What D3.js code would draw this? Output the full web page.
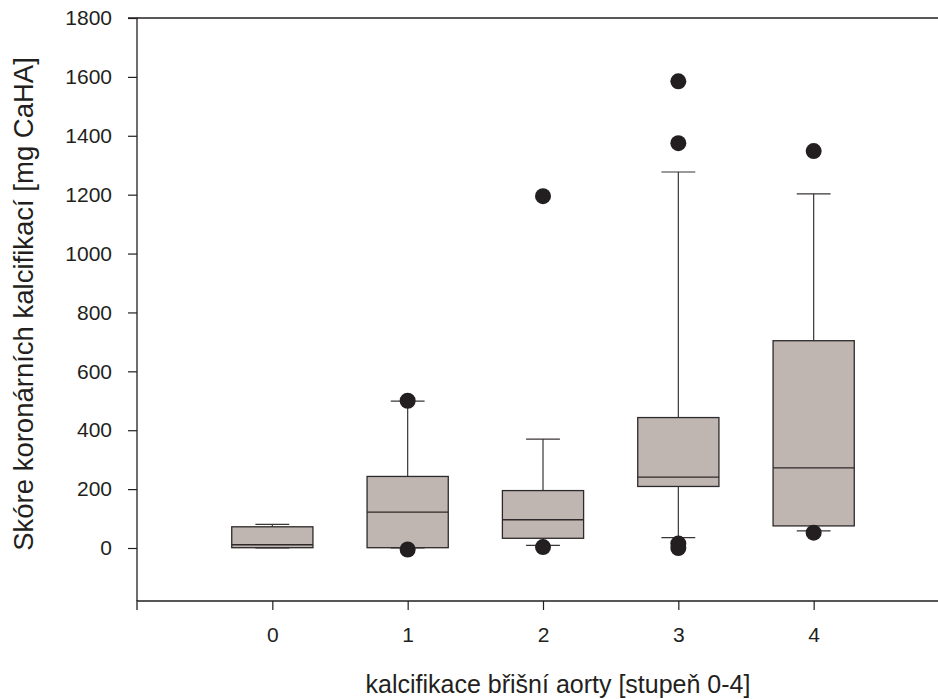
<!DOCTYPE html>
<html>
<head>
<meta charset="utf-8">
<script src="https://cdn.jsdelivr.net/npm/d3@7"></script>
<style>
  body { margin: 0; background: #fff; }
  text { font-family: "Liberation Sans", Arial, sans-serif; fill: #231f20; }
</style>
</head>
<body>
<div id="chart"></div>
<script>
let margin = {top: 18, right: 0, bottom: 99, left: 137},
    width = 938 - margin.left - margin.right,
    height = 699 - margin.top - margin.bottom

// values
const grades = [0, 1, 2, 3, 4]
const whiskerLow = [0, 0, 9, 35, 58]
const q1 = [1, 1, 33, 209, 75]
const median = [11, 122, 96, 241, 272]
const q3 = [72, 243, 195, 443, 704]
const whiskerHigh = [80, 499, 370, 1277, 1203]
const outliers = [
  [],
  [500, -5],
  [1195, 3],
  [1585, 1375, 15, 0],
  [1348, 52]
]
const yTicks = [0, 200, 400, 600, 800, 1000, 1200, 1400, 1600, 1800]

let svg = d3.select("#chart")
            .append('svg')
            .attr('width', 938)
            .attr('height', 699)
            .append('g')
            .attr('transform', "translate(" + margin.left + "," + margin.top + ")")

let x = d3.scaleLinear()
          .domain([-1, 5])
          .range([0, 812])
let y = d3.scaleLinear()
          .domain([-180, 1800])
          .range([height + 1, 0])

const boxW = 0.6, capW = 0.25

// frame top line
svg.append('line')
   .attr('x1', 0).attr('x2', width)
   .attr('y1', 0).attr('y2', 0)
   .attr('stroke', '#231f20').attr('stroke-width', 1.3)

let yAxis = svg.append('g')
               .call(d3.axisLeft(y).tickValues(yTicks).tickFormat(d3.format("d"))
                       .tickSize(9).tickPadding(16))
let xAxis = svg.append('g')
               .attr('transform', "translate(0," + (height + 1) + ")")
               .call(d3.axisBottom(x).tickValues(grades).tickFormat(d3.format("d"))
                       .tickSize(9).tickPadding(17))

svg.selectAll('.domain').attr('stroke', '#231f20').attr('stroke-width', 1.3)
svg.selectAll('.tick line').attr('stroke', '#231f20').attr('stroke-width', 1.2)
svg.selectAll('.tick text').style('font-size', '21px').attr('fill', '#231f20')
// x axis line runs across whole width
xAxis.select('.domain').attr('d', "M0,9V0H" + width)
yAxis.select('.domain').attr('d', "M-9," + (y(1800)) + "H0V" + (height + 1))

let groups = svg.selectAll('.box')
                .data(grades)
                .enter()
                .append('g')
                .attr('class', 'box')

// whiskers
groups.append('line')
      .attr('x1', d => x(d)).attr('x2', d => x(d))
      .attr('y1', d => y(q3[d])).attr('y2', d => y(whiskerHigh[d]))
      .attr('stroke', '#3a3536').attr('stroke-width', 1.2)
groups.append('line')
      .attr('x1', d => x(d)).attr('x2', d => x(d))
      .attr('y1', d => y(q1[d])).attr('y2', d => y(whiskerLow[d]))
      .attr('stroke', '#3a3536').attr('stroke-width', 1.2)
groups.append('line')
      .attr('x1', d => x(d - capW / 2)).attr('x2', d => x(d + capW / 2))
      .attr('y1', d => y(whiskerHigh[d])).attr('y2', d => y(whiskerHigh[d]))
      .attr('stroke', '#3a3536').attr('stroke-width', 1.2)
groups.append('line')
      .attr('x1', d => x(d - capW / 2)).attr('x2', d => x(d + capW / 2))
      .attr('y1', d => y(whiskerLow[d])).attr('y2', d => y(whiskerLow[d]))
      .attr('stroke', '#3a3536').attr('stroke-width', 1.2)

// boxes
groups.append('rect')
      .attr('x', d => x(d - boxW / 2))
      .attr('width', d => x(d + boxW / 2) - x(d - boxW / 2))
      .attr('y', d => y(q3[d]))
      .attr('height', d => y(q1[d]) - y(q3[d]))
      .attr('fill', '#bfb6b1')
      .attr('stroke', '#2e292a')
      .attr('stroke-width', 1.3)
groups.append('line')
      .attr('x1', d => x(d - boxW / 2)).attr('x2', d => x(d + boxW / 2))
      .attr('y1', d => y(median[d])).attr('y2', d => y(median[d]))
      .attr('stroke', '#2e292a').attr('stroke-width', 1.3)

// outliers
groups.selectAll('circle')
      .data(d => outliers[d].map(v => ({g: d, v: v})))
      .enter()
      .append('circle')
      .attr('cx', d => x(d.g))
      .attr('cy', d => y(d.v))
      .attr('r', 8)
      .attr('fill', '#231f20')

// axis titles
svg.append('text')
   .attr('x', 558 - margin.left)
   .attr('y', height + 93)
   .attr('text-anchor', 'middle')
   .style('font-size', '25px')
   .text("kalcifikace břišní aorty [stupeň 0-4]")

svg.append('text')
   .attr('transform', "translate(" + (-104) + "," + (304 - margin.top) + ")rotate(-90)")
   .attr('text-anchor', 'middle')
   .style('font-size', '27.5px')
   .text("Skóre koronárních kalcifikací [mg CaHA]")
</script>
</body>
</html>
